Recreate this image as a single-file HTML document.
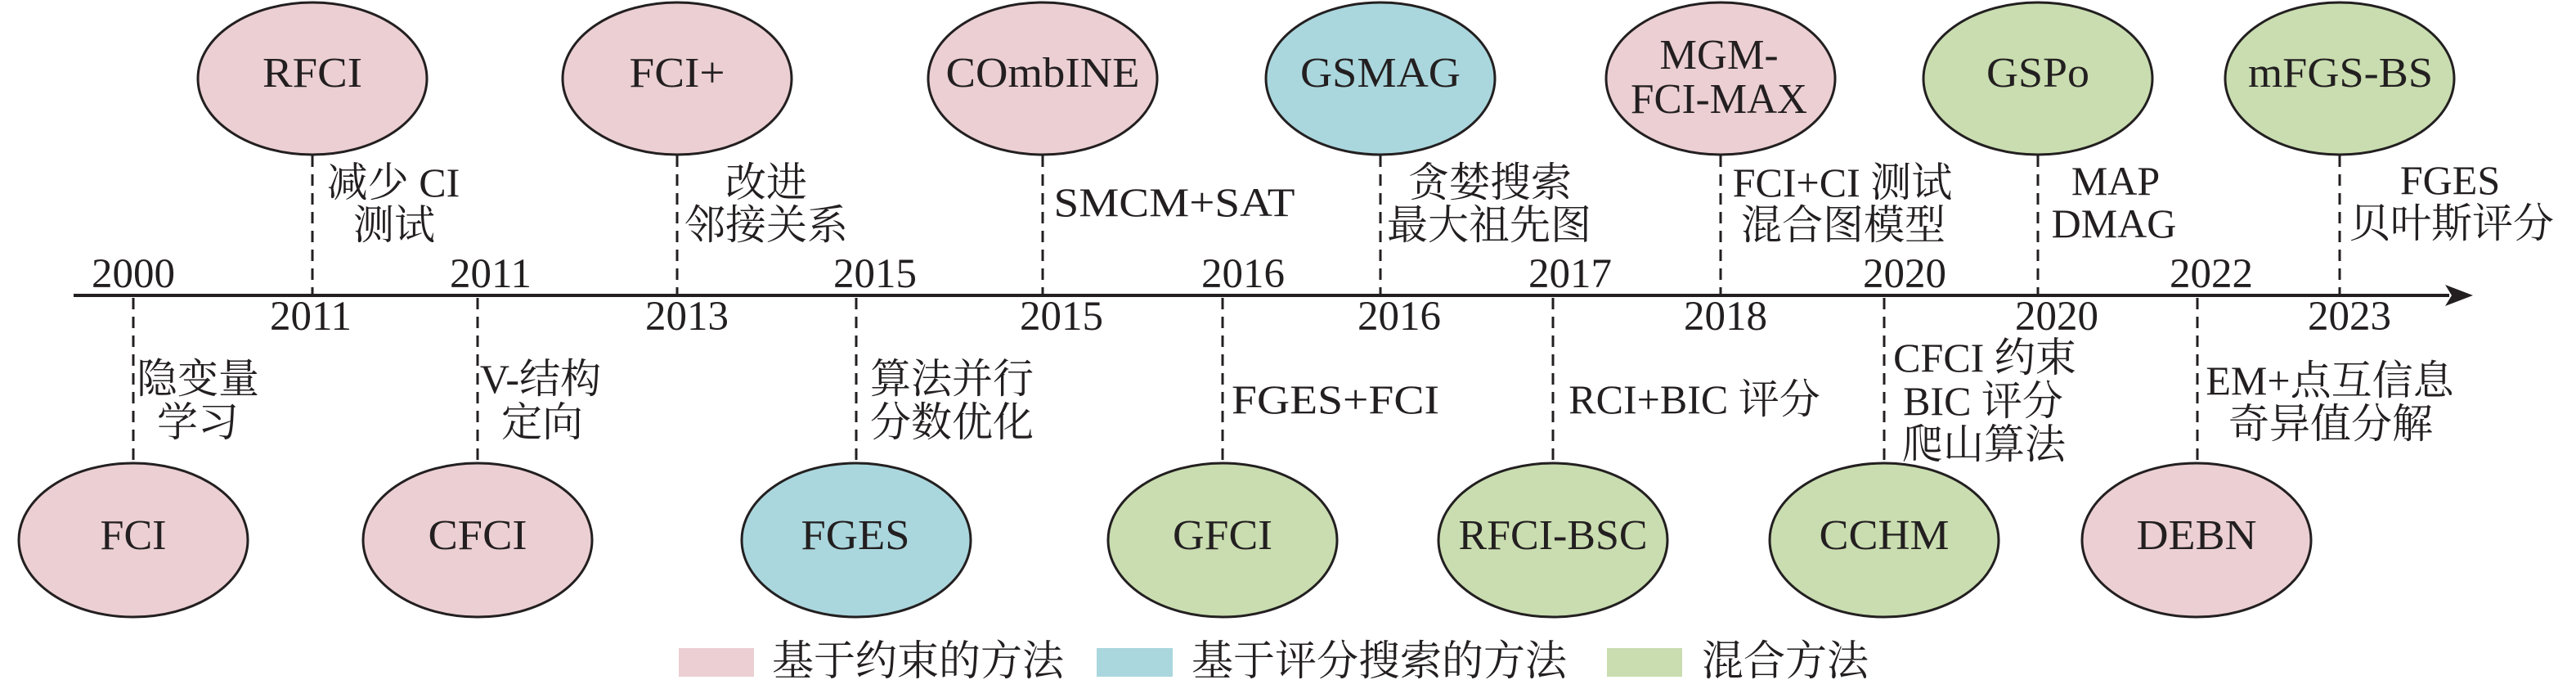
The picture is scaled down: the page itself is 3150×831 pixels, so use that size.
<!DOCTYPE html>
<html><head><meta charset="utf-8"><style>
html,body{margin:0;padding:0;background:#fff;}
svg{display:block;}
text{font-family:"Liberation Serif","Noto Serif CJK SC","Noto Sans CJK SC",serif;fill:#231f20;}
</style></head><body>
<svg width="3150" height="831" viewBox="0 0 3150 831" xmlns="http://www.w3.org/2000/svg">
<line x1="90" y1="361" x2="2995" y2="361" stroke="#231f20" stroke-width="4"/>
<polygon points="2990,348 3024,361 2990,374 2998,361" fill="#231f20"/>

<g stroke="#231f20" stroke-width="3" stroke-dasharray="14,9" fill="none">
<line x1="382" y1="190" x2="382" y2="361"/>
<line x1="828" y1="190" x2="828" y2="361"/>
<line x1="1275" y1="190" x2="1275" y2="361"/>
<line x1="1688" y1="190" x2="1688" y2="361"/>
<line x1="2104" y1="190" x2="2104" y2="361"/>
<line x1="2492" y1="190" x2="2492" y2="361"/>
<line x1="2861" y1="190" x2="2861" y2="361"/>
<line x1="163" y1="364" x2="163" y2="566"/>
<line x1="584" y1="364" x2="584" y2="566"/>
<line x1="1047" y1="364" x2="1047" y2="566"/>
<line x1="1495" y1="364" x2="1495" y2="566"/>
<line x1="1899" y1="364" x2="1899" y2="566"/>
<line x1="2304" y1="364" x2="2304" y2="566"/>
<line x1="2687" y1="364" x2="2687" y2="566"/>
</g>

<g stroke="#231f20" stroke-width="3">
<ellipse cx="382" cy="96" rx="140" ry="93" fill="#ebcfd3"/>
<ellipse cx="828" cy="96" rx="140" ry="93" fill="#ebcfd3"/>
<ellipse cx="1275" cy="96" rx="140" ry="93" fill="#ebcfd3"/>
<ellipse cx="1688" cy="96" rx="140" ry="93" fill="#aad7dd"/>
<ellipse cx="2104" cy="96" rx="140" ry="93" fill="#ebcfd3"/>
<ellipse cx="2492" cy="96" rx="140" ry="93" fill="#c9ddb0"/>
<ellipse cx="2861" cy="96" rx="140" ry="93" fill="#c9ddb0"/>

<ellipse cx="163" cy="660" rx="140" ry="94" fill="#ebcfd3"/>
<ellipse cx="584" cy="660" rx="140" ry="94" fill="#ebcfd3"/>
<ellipse cx="1047" cy="660" rx="140" ry="94" fill="#aad7dd"/>
<ellipse cx="1495" cy="660" rx="140" ry="94" fill="#c9ddb0"/>
<ellipse cx="1899" cy="660" rx="140" ry="94" fill="#c9ddb0"/>
<ellipse cx="2304" cy="660" rx="140" ry="94" fill="#c9ddb0"/>
<ellipse cx="2686" cy="660" rx="140" ry="94" fill="#ebcfd3"/>
</g>

<g font-size="52" text-anchor="middle">
<text x="382" y="106" textLength="122" lengthAdjust="spacingAndGlyphs">RFCI</text>
<text x="828" y="106" textLength="117" lengthAdjust="spacingAndGlyphs">FCI+</text>
<text x="1275" y="106" textLength="237" lengthAdjust="spacingAndGlyphs">COmbINE</text>
<text x="1688" y="106" textLength="196" lengthAdjust="spacingAndGlyphs">GSMAG</text>
<text x="2102" y="84" textLength="145" lengthAdjust="spacingAndGlyphs">MGM-</text>
<text x="2102" y="138" textLength="216" lengthAdjust="spacingAndGlyphs">FCI-MAX</text>
<text x="2492" y="106" textLength="126" lengthAdjust="spacingAndGlyphs">GSPo</text>
<text x="2862" y="106" textLength="226" lengthAdjust="spacingAndGlyphs">mFGS-BS</text>

<text x="163" y="671" textLength="81" lengthAdjust="spacingAndGlyphs">FCI</text>
<text x="584" y="671" textLength="121" lengthAdjust="spacingAndGlyphs">CFCI</text>
<text x="1046" y="671" textLength="133" lengthAdjust="spacingAndGlyphs">FGES</text>
<text x="1495" y="671" textLength="122" lengthAdjust="spacingAndGlyphs">GFCI</text>
<text x="1899" y="671" textLength="231" lengthAdjust="spacingAndGlyphs">RFCI-BSC</text>
<text x="2304" y="671" textLength="159" lengthAdjust="spacingAndGlyphs">CCHM</text>
<text x="2686" y="671" textLength="147" lengthAdjust="spacingAndGlyphs">DEBN</text>
</g>

<g font-size="51" text-anchor="middle">
<text x="163" y="351">2000</text>
<text x="600" y="351">2011</text>
<text x="1070" y="351">2015</text>
<text x="1520" y="351">2016</text>
<text x="1920" y="351">2017</text>
<text x="2329" y="351">2020</text>
<text x="2704" y="351">2022</text>

<text x="380" y="403">2011</text>
<text x="840" y="403">2013</text>
<text x="1298" y="403">2015</text>
<text x="1711" y="403">2016</text>
<text x="2110" y="403">2018</text>
<text x="2515" y="403">2020</text>
<text x="2873" y="403">2023</text>
</g>

<g font-size="50" text-anchor="middle">
<text x="481" y="240">减少 CI</text>
<text x="482" y="292">测试</text>
<text x="937" y="240">改进</text>
<text x="937" y="292">邻接关系</text>
<text x="1436" y="264" textLength="295" lengthAdjust="spacingAndGlyphs">SMCM+SAT</text>
<text x="1822" y="240">贪婪搜索</text>
<text x="1821" y="292">最大祖先图</text>
<text x="2253" y="240">FCI+CI 测试</text>
<text x="2254" y="292">混合图模型</text>
<text x="2587" y="238">MAP</text>
<text x="2585" y="290">DMAG</text>
<text x="2996" y="237">FGES</text>
<text x="2998" y="290">贝叶斯评分</text>

<text x="242" y="480">隐变量</text>
<text x="242" y="533">学习</text>
<text x="661" y="480">V-结构</text>
<text x="663" y="533">定向</text>
<text x="1164" y="480">算法并行</text>
<text x="1164" y="533">分数优化</text>
<text x="1633" y="505" textLength="254" lengthAdjust="spacingAndGlyphs">FGES+FCI</text>
<text x="2072" y="505">RCI+BIC 评分</text>
<text x="2427" y="454">CFCI 约束</text>
<text x="2425" y="507">BIC 评分</text>
<text x="2426" y="560">爬山算法</text>
<text x="2849" y="482">EM+点互信息</text>
<text x="2850" y="535">奇异值分解</text>
</g>

<rect x="830" y="792" width="92" height="35" fill="#ebcfd3"/>
<rect x="1341" y="792" width="93" height="35" fill="#aad7dd"/>
<rect x="1965" y="792" width="92" height="35" fill="#c9ddb0"/>
<g font-size="51">
<text x="944" y="825">基于约束的方法</text>
<text x="1457" y="825">基于评分搜索的方法</text>
<text x="2081" y="825">混合方法</text>
</g>
</svg>
</body></html>
